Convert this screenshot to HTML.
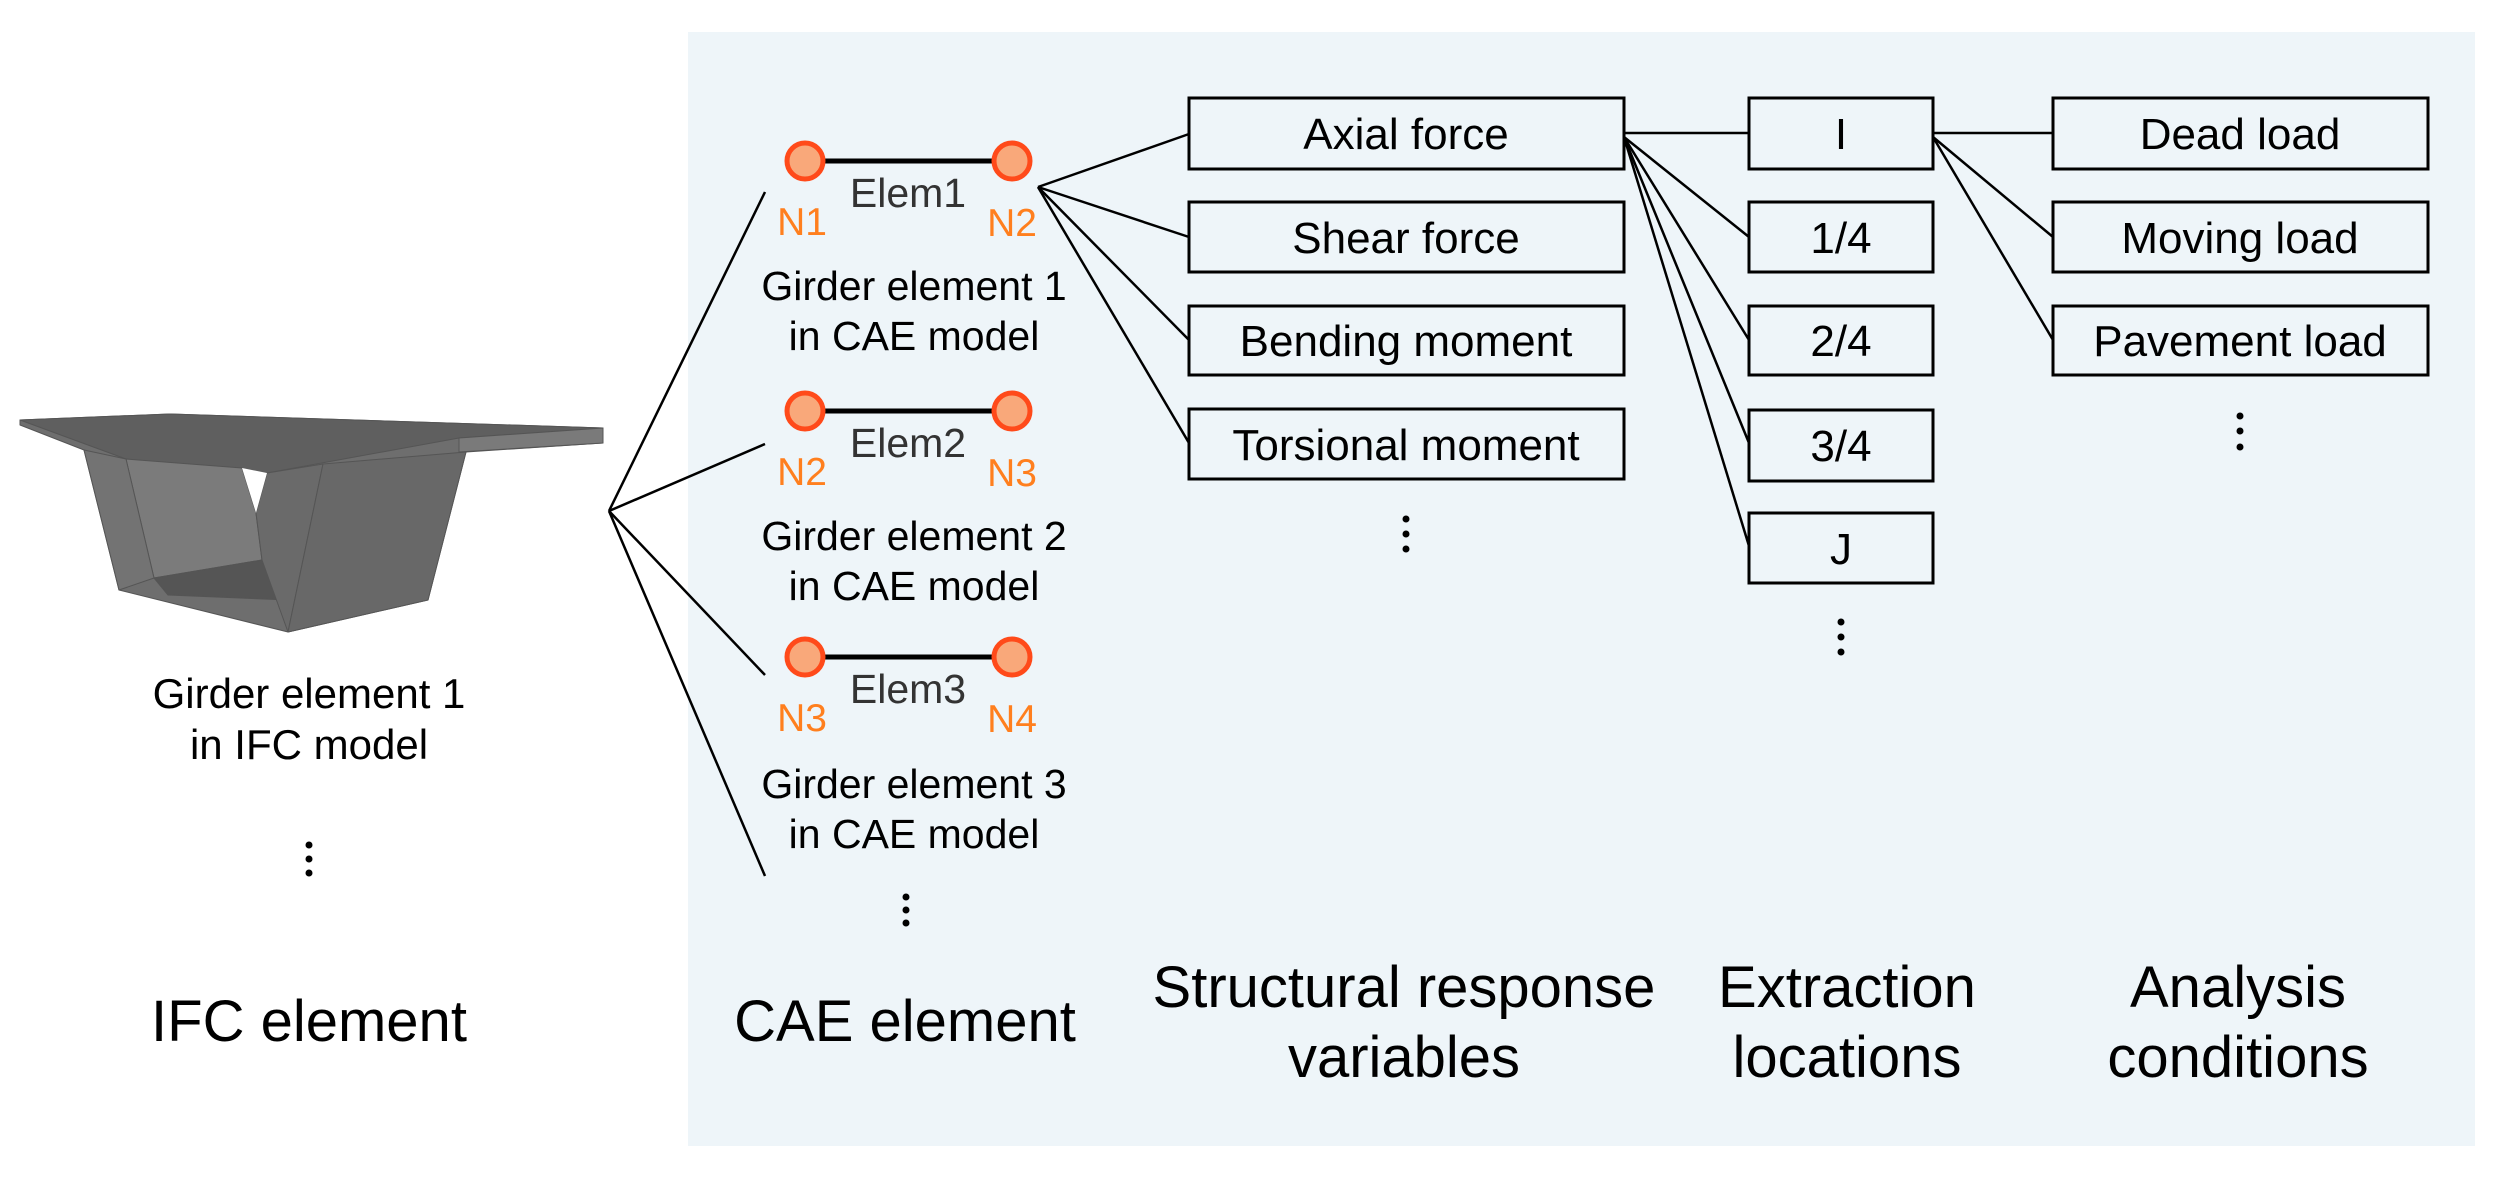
<!DOCTYPE html>
<html><head><meta charset="utf-8"><style>
html,body{margin:0;padding:0;background:#fff}
svg{display:block}
text{font-family:"Liberation Sans",sans-serif}
</style></head><body>
<svg width="2502" height="1186" viewBox="0 0 2502 1186" xmlns="http://www.w3.org/2000/svg">
<rect x="688" y="32" width="1787" height="1114" fill="#eef5f9"/>

<!-- bridge girder -->
<g stroke="#555" stroke-width="1" stroke-linejoin="round">
<polygon points="20,420 170,414 603,428 603,443 466,452 428,600 288,632 119,590 84,450 20,425" fill="#6e6e6e"/>
<polygon points="20,420 170,414 603,428 459,438 267,473 126,459" fill="#5f5f5f"/>
<polygon points="459,438 603,428 603,443 459,452" fill="#7a7a7a"/>
<polygon points="126,459 242,468 256,513 262,560 154,578" fill="#7b7b7b"/>
<polygon points="154,578 262,560 280,560 288,600 168,595" fill="#555"/>
<polygon points="267,473 323,464 288,632 262,560 256,513" fill="#6a6a6a"/>
<polygon points="323,464 466,452 428,600 288,632" fill="#686868"/>
<polygon points="84,450 126,459 154,578 119,590" fill="#737373"/>
<polygon points="242,468 267,473 256,513" fill="#fff" stroke="none"/>
</g>

<g fill="#000" text-anchor="middle" font-size="42">
<text x="309" y="708">Girder element 1</text>
<text x="309" y="759">in IFC model</text>
</g>
<g fill="#000"><circle cx="309" cy="845" r="3.5"/><circle cx="309" cy="859" r="3.5"/><circle cx="309" cy="873" r="3.5"/></g>

<!-- fan from IFC -->
<g stroke="#000" stroke-width="2.5" fill="none">
<line x1="609" y1="511" x2="765" y2="192"/>
<line x1="609" y1="511" x2="765" y2="444"/>
<line x1="609" y1="511" x2="765" y2="675"/>
<line x1="609" y1="511" x2="765" y2="876"/>
</g>

<!-- CAE elements -->
<g stroke="#000" stroke-width="5"><line x1="805" y1="161" x2="1012" y2="161"/><line x1="805" y1="411" x2="1012" y2="411"/><line x1="805" y1="657" x2="1012" y2="657"/></g>
<g fill="#f9a87a" stroke="#ff4a1a" stroke-width="5">
<circle cx="805" cy="161" r="18"/><circle cx="1012" cy="161" r="18"/>
<circle cx="805" cy="411" r="18"/><circle cx="1012" cy="411" r="18"/>
<circle cx="805" cy="657" r="18"/><circle cx="1012" cy="657" r="18"/>
</g>
<g fill="#333" font-size="41" text-anchor="middle">
<text x="908" y="207">Elem1</text><text x="908" y="457">Elem2</text><text x="908" y="703">Elem3</text>
</g>
<g fill="#ff7f1e" font-size="39" text-anchor="middle">
<text x="802" y="235">N1</text><text x="1012" y="236">N2</text>
<text x="802" y="485">N2</text><text x="1012" y="486">N3</text>
<text x="802" y="731">N3</text><text x="1012" y="732">N4</text>
</g>
<g fill="#000" font-size="41" text-anchor="middle">
<text x="914" y="300">Girder element 1</text><text x="914" y="350">in CAE model</text>
<text x="914" y="550">Girder element 2</text><text x="914" y="600">in CAE model</text>
<text x="914" y="798">Girder element 3</text><text x="914" y="848">in CAE model</text>
</g>
<g fill="#000"><circle cx="906" cy="897" r="3.5"/><circle cx="906" cy="910" r="3.5"/><circle cx="906" cy="923" r="3.5"/></g>

<!-- connectors -->
<g stroke="#000" stroke-width="2.5">
<line x1="1038" y1="187" x2="1189" y2="134"/>
<line x1="1038" y1="187" x2="1189" y2="237"/>
<line x1="1038" y1="187" x2="1189" y2="340"/>
<line x1="1038" y1="187" x2="1189" y2="443"/>
<line x1="1624" y1="133" x2="1749" y2="133"/>
<line x1="1624" y1="137" x2="1749" y2="237"/>
<line x1="1624" y1="137" x2="1749" y2="340"/>
<line x1="1624" y1="137" x2="1749" y2="443"/>
<line x1="1624" y1="137" x2="1749" y2="546"/>
<line x1="1933" y1="133" x2="2053" y2="133"/>
<line x1="1933" y1="137" x2="2053" y2="237"/>
<line x1="1933" y1="137" x2="2053" y2="340"/>
</g>

<!-- boxes -->
<g fill="#eef5f9" stroke="#000" stroke-width="3">
<rect x="1189" y="98" width="435" height="71"/>
<rect x="1189" y="202" width="435" height="70"/>
<rect x="1189" y="306" width="435" height="69"/>
<rect x="1189" y="409" width="435" height="70"/>
<rect x="1749" y="98" width="184" height="71"/>
<rect x="1749" y="202" width="184" height="70"/>
<rect x="1749" y="306" width="184" height="69"/>
<rect x="1749" y="410" width="184" height="71"/>
<rect x="1749" y="513" width="184" height="70"/>
<rect x="2053" y="98" width="375" height="71"/>
<rect x="2053" y="202" width="375" height="70"/>
<rect x="2053" y="306" width="375" height="69"/>
</g>
<g fill="#000" font-size="44" text-anchor="middle">
<text x="1406" y="149">Axial force</text>
<text x="1406" y="253">Shear force</text>
<text x="1406" y="356">Bending moment</text>
<text x="1406" y="460">Torsional moment</text>
<text x="1841" y="149">I</text>
<text x="1841" y="253">1/4</text>
<text x="1841" y="356">2/4</text>
<text x="1841" y="461">3/4</text>
<text x="1841" y="564">J</text>
<text x="2240" y="149">Dead load</text>
<text x="2240" y="253">Moving load</text>
<text x="2240" y="356">Pavement load</text>
</g>
<g fill="#000">
<circle cx="1406" cy="519" r="3.5"/><circle cx="1406" cy="534" r="3.5"/><circle cx="1406" cy="549" r="3.5"/>
<circle cx="1841" cy="622" r="3.5"/><circle cx="1841" cy="637" r="3.5"/><circle cx="1841" cy="652" r="3.5"/>
<circle cx="2240" cy="416" r="3.5"/><circle cx="2240" cy="431" r="3.5"/><circle cx="2240" cy="447" r="3.5"/>
</g>

<!-- titles -->
<g fill="#000" font-size="58" text-anchor="middle">
<text x="309" y="1041">IFC element</text>
<text x="905" y="1041">CAE element</text>
<text x="1404" y="1007">Structural response</text>
<text x="1404" y="1077">variables</text>
<text x="1847" y="1007">Extraction</text>
<text x="1847" y="1077">locations</text>
<text x="2238" y="1007">Analysis</text>
<text x="2238" y="1077">conditions</text>
</g>
</svg>
</body></html>
